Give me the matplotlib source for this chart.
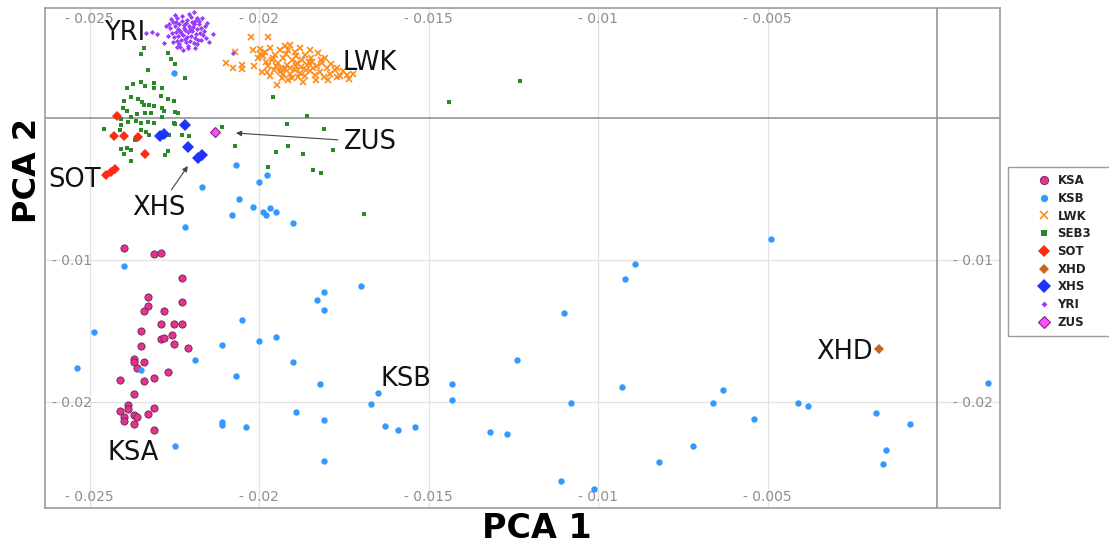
import matplotlib
matplotlib.use("Agg")
import matplotlib.pyplot as plt
import numpy as np

# PCA coordinates per population (PC1, PC2)
ksa = [
    (-0.02397, -0.00913), (-0.02309, -0.00960), (-0.02289, -0.00951), (-0.02228, -0.01129),
    (-0.02328, -0.01259), (-0.02228, -0.01294), (-0.02328, -0.01322), (-0.02338, -0.01361),
    (-0.02279, -0.01361), (-0.02289, -0.01451), (-0.02250, -0.01451), (-0.02228, -0.01451),
    (-0.02348, -0.01500), (-0.02289, -0.01559), (-0.02279, -0.01547), (-0.02258, -0.01528),
    (-0.02250, -0.01589), (-0.02348, -0.01608), (-0.02209, -0.01620), (-0.02370, -0.01699),
    (-0.02370, -0.01718), (-0.02338, -0.01716), (-0.02360, -0.01759), (-0.02268, -0.01787),
    (-0.02409, -0.01845), (-0.02338, -0.01854), (-0.02309, -0.01829), (-0.02370, -0.01946),
    (-0.02387, -0.02021), (-0.02387, -0.02049), (-0.02309, -0.02044), (-0.02409, -0.02061),
    (-0.02399, -0.02104), (-0.02397, -0.02132), (-0.02370, -0.02094), (-0.02360, -0.02104),
    (-0.02328, -0.02085), (-0.02370, -0.02157), (-0.02309, -0.02197),
]

ksb = [
    (-0.02251, 0.00317), (-0.02069, -0.00331), (-0.01977, -0.00398), (-0.02000, -0.00454),
    (-0.02167, -0.00488), (-0.02059, -0.00570), (-0.02079, -0.00683), (-0.02019, -0.00625),
    (-0.01989, -0.00664), (-0.01979, -0.00683), (-0.01968, -0.00632), (-0.01949, -0.00664),
    (-0.01900, -0.00742), (-0.02218, -0.00770), (-0.02397, -0.01039), (-0.01699, -0.01185),
    (-0.01808, -0.01227), (-0.01830, -0.01280), (-0.01808, -0.01352), (-0.02049, -0.01423),
    (-0.02487, -0.01509), (-0.01999, -0.01570), (-0.01949, -0.01540), (-0.02108, -0.01601),
    (-0.02538, -0.01758), (-0.02189, -0.01706), (-0.02348, -0.01777), (-0.01900, -0.01718),
    (-0.02069, -0.01817), (-0.01819, -0.01875), (-0.01650, -0.01937), (-0.01670, -0.02014),
    (-0.01890, -0.02073), (-0.02108, -0.02139), (-0.02108, -0.02164), (-0.02038, -0.02178),
    (-0.01808, -0.02129), (-0.01628, -0.02167), (-0.01589, -0.02197), (-0.01540, -0.02178),
    (-0.02249, -0.02308), (-0.01808, -0.02413), (-0.00491, -0.00852), (-0.00890, -0.01030),
    (-0.00919, -0.01132), (-0.01100, -0.01373), (-0.01240, -0.01706), (-0.01430, -0.01875),
    (-0.01430, -0.01986), (-0.01319, -0.02209), (-0.01269, -0.02227), (-0.01081, -0.02005),
    (-0.00930, -0.01896), (-0.01110, -0.02554), (-0.01011, -0.02611), (-0.00820, -0.02425),
    (-0.00720, -0.02308), (-0.00661, -0.02005), (-0.00630, -0.01915), (-0.00541, -0.02120),
    (-0.00410, -0.02005), (-0.00381, -0.02026), (-0.00181, -0.02075), (-0.00081, -0.02157),
    (-0.00150, -0.02336), (-0.00160, -0.02435), (0.00149, -0.01866),
]

lwk = [
    (-0.02097, 0.00387), (-0.02077, 0.00352), (-0.02071, 0.00465), (-0.02050, 0.00373),
    (-0.02050, 0.00345), (-0.02024, 0.00570), (-0.01973, 0.00570), (-0.02018, 0.00479),
    (-0.01997, 0.00486), (-0.02003, 0.00423), (-0.01991, 0.00324), (-0.02015, 0.00366),
    (-0.01982, 0.00465), (-0.01968, 0.00493), (-0.01953, 0.00444), (-0.01938, 0.00479),
    (-0.01923, 0.00507), (-0.01909, 0.00514), (-0.01914, 0.00479), (-0.01894, 0.00465),
    (-0.01879, 0.00493), (-0.01864, 0.00444), (-0.01850, 0.00479), (-0.01826, 0.00458),
    (-0.01805, 0.00423), (-0.01962, 0.00408), (-0.01944, 0.00387), (-0.01929, 0.00423),
    (-0.01917, 0.00373), (-0.01903, 0.00408), (-0.01888, 0.00387), (-0.01873, 0.00408),
    (-0.01858, 0.00373), (-0.01844, 0.00394), (-0.01829, 0.00366), (-0.01814, 0.00387),
    (-0.01799, 0.00352), (-0.01973, 0.00366), (-0.01956, 0.00338), (-0.01938, 0.00324),
    (-0.01923, 0.00345), (-0.01909, 0.00310), (-0.01894, 0.00338), (-0.01879, 0.00317),
    (-0.01864, 0.00296), (-0.01850, 0.00331), (-0.01835, 0.00303), (-0.01820, 0.00324),
    (-0.01791, 0.00310), (-0.01776, 0.00338), (-0.01770, 0.00352), (-0.01761, 0.00296),
    (-0.01740, 0.00303), (-0.01723, 0.00310), (-0.01770, 0.00289), (-0.01796, 0.00268),
    (-0.01870, 0.00254), (-0.01947, 0.00232), (-0.01903, 0.00282), (-0.01932, 0.00282),
    (-0.01968, 0.00296), (-0.01979, 0.00394), (-0.01950, 0.00366), (-0.01891, 0.00437),
    (-0.01876, 0.00359), (-0.01847, 0.00423), (-0.01817, 0.00408), (-0.01920, 0.00451),
    (-0.01935, 0.00352), (-0.01861, 0.00338), (-0.01832, 0.00268), (-0.01808, 0.00289),
    (-0.01885, 0.00289), (-0.01909, 0.00352), (-0.01929, 0.00310), (-0.01959, 0.00423),
    (-0.01988, 0.00437), (-0.01853, 0.00394), (-0.01891, 0.00366), (-0.01841, 0.00352),
    (-0.01788, 0.00380), (-0.01752, 0.00331), (-0.01735, 0.00275), (-0.01997, 0.00451),
    (-0.01976, 0.00324), (-0.01914, 0.00268),
]

seb3 = [
    (-0.02339, 0.00493), (-0.02348, 0.00451), (-0.02328, 0.00338), (-0.02269, 0.00458),
    (-0.02260, 0.00415), (-0.02248, 0.00380), (-0.02218, 0.00282), (-0.02390, 0.00211),
    (-0.02372, 0.00239), (-0.02348, 0.00254), (-0.02336, 0.00225), (-0.02310, 0.00246),
    (-0.02310, 0.00211), (-0.02286, 0.00211), (-0.02378, 0.00148), (-0.02398, 0.00120),
    (-0.02357, 0.00134), (-0.02345, 0.00113), (-0.02339, 0.00092), (-0.02289, 0.00155),
    (-0.02269, 0.00134), (-0.02251, 0.00120), (-0.02325, 0.00092), (-0.02310, 0.00085),
    (-0.02286, 0.00070), (-0.02280, 0.00049), (-0.02248, 0.00042), (-0.02239, 0.00035),
    (-0.02390, 0.00049), (-0.02401, 0.00070), (-0.02360, 0.00028), (-0.02378, 0.00007),
    (-0.02336, 0.00035), (-0.02319, 0.00035), (-0.02407, -0.00007), (-0.02387, -0.00028),
    (-0.02363, -0.00021), (-0.02348, -0.00035), (-0.02328, -0.00028), (-0.02310, -0.00035),
    (-0.02286, 0.00007), (-0.02251, -0.00035), (-0.02407, -0.00049), (-0.02457, -0.00077),
    (-0.02410, -0.00085), (-0.02348, -0.00085), (-0.02333, -0.00099), (-0.02325, -0.00120),
    (-0.02266, -0.00120), (-0.02227, -0.00120), (-0.02207, -0.00127), (-0.02366, -0.00155),
    (-0.02390, -0.00211), (-0.02407, -0.00218), (-0.02378, -0.00225), (-0.02398, -0.00254),
    (-0.02378, -0.00303), (-0.02277, -0.00261), (-0.02269, -0.00232), (-0.02248, -0.00042),
    (-0.02109, -0.00063), (-0.02071, -0.00197), (-0.01959, 0.00148), (-0.01859, 0.00014),
    (-0.01230, 0.00261), (-0.01440, 0.00113), (-0.01974, -0.00345), (-0.01950, -0.00239),
    (-0.01915, -0.00197), (-0.01870, -0.00254), (-0.01841, -0.00366), (-0.01817, -0.00387),
    (-0.01782, -0.00225), (-0.01808, -0.00077), (-0.01918, -0.00042), (-0.01690, -0.00676),
]

sot = [
    (-0.02419, 0.00011), (-0.02428, -0.00130), (-0.02398, -0.00130), (-0.02358, -0.00137),
    (-0.02336, -0.00254), (-0.02451, -0.00401), (-0.02438, -0.00380), (-0.02425, -0.00359),
]

xhd = [(-0.00171, -0.01629)]

xhs = [
    (-0.02218, -0.00049), (-0.02292, -0.00127), (-0.02280, -0.00113),
    (-0.02209, -0.00204), (-0.02180, -0.00282), (-0.02168, -0.00261),
]

yri = [
    (-0.02253, 0.00676), (-0.02242, 0.00704), (-0.02227, 0.00719), (-0.02212, 0.00690),
    (-0.02200, 0.00712), (-0.02188, 0.00683), (-0.02177, 0.00662), (-0.02262, 0.00634),
    (-0.02248, 0.00648), (-0.02236, 0.00662), (-0.02221, 0.00655), (-0.02206, 0.00648),
    (-0.02194, 0.00641), (-0.02183, 0.00627), (-0.02171, 0.00634), (-0.02256, 0.00599),
    (-0.02245, 0.00606), (-0.02233, 0.00613), (-0.02218, 0.00620), (-0.02209, 0.00606),
    (-0.02197, 0.00613), (-0.02186, 0.00592), (-0.02174, 0.00599), (-0.02250, 0.00571),
    (-0.02239, 0.00578), (-0.02224, 0.00585), (-0.02212, 0.00571), (-0.02200, 0.00578),
    (-0.02188, 0.00564), (-0.02242, 0.00543), (-0.02230, 0.00550), (-0.02215, 0.00536),
    (-0.02203, 0.00543), (-0.02191, 0.00528), (-0.02259, 0.00697), (-0.02165, 0.00585),
    (-0.02159, 0.00648), (-0.02268, 0.00578), (-0.02227, 0.00683), (-0.02197, 0.00676),
    (-0.02180, 0.00550), (-0.02236, 0.00521), (-0.02209, 0.00507), (-0.02221, 0.00634),
    (-0.02203, 0.00627), (-0.02230, 0.00599), (-0.02191, 0.00662), (-0.02245, 0.00676),
    (-0.02215, 0.00669), (-0.02183, 0.00704), (-0.02253, 0.00536), (-0.02171, 0.00550),
    (-0.02218, 0.00557), (-0.02239, 0.00627), (-0.02177, 0.00683), (-0.02162, 0.00613),
    (-0.02265, 0.00662), (-0.02206, 0.00733), (-0.02233, 0.00500), (-0.02188, 0.00493),
    (-0.02248, 0.00726), (-0.02191, 0.00747), (-0.02168, 0.00704), (-0.02135, 0.00592),
    (-0.02147, 0.00536), (-0.02224, 0.00479), (-0.02242, 0.00500), (-0.02209, 0.00493),
    (-0.02183, 0.00521), (-0.02315, 0.00606), (-0.02300, 0.00592), (-0.02333, 0.00599),
    (-0.02280, 0.00528), (-0.02077, 0.00458), (-0.02153, 0.00669), (-0.02156, 0.00564),
    (-0.02274, 0.00648),
]

zus = [(-0.02131, -0.00099)]

populations = ["KSA", "KSB", "LWK", "SEB3", "SOT", "XHD", "XHS", "YRI", "ZUS"]
points = [ksa, ksb, lwk, seb3, sot, xhd, xhs, yri, zus]

styles = {
    "KSA": dict(marker="o", ms=5.2, mfc="#e2348e", mec="#6a2450", mew=0.6),
    "KSB": dict(marker="o", ms=4.6, mfc="#3399ff", mec="#3399ff", mew=0),
    "LWK": dict(marker="x", ms=5.0, mec="#ff8a1c", mew=1.2),
    "SEB3": dict(marker="s", ms=3.4, mfc="#2a8a2a", mec="#2a8a2a", mew=0),
    "SOT": dict(marker="D", ms=5.4, mfc="#ff2a12", mec="#ff2a12", mew=0),
    "XHD": dict(marker="D", ms=4.6, mfc="#c8641f", mec="#c8641f", mew=0),
    "XHS": dict(marker="D", ms=6.2, mfc="#1f33ff", mec="#1f33ff", mew=0),
    "YRI": dict(marker="D", ms=2.6, mfc="#9a3cff", mec="#9a3cff", mew=0),
    "ZUS": dict(marker="D", ms=5.0, mfc="#ff4dff", mec="#7a2a7a", mew=0.8),
}

# annotation labels: (text, text position, arrow target or None)
labels = [
    ("YRI", (-0.02396, 0.00598), None),
    ("LWK", (-0.01673, 0.00387), None),
    ("ZUS", (-0.01673, -0.00169), (-0.02068, -0.00106)),
    ("SOT", (-0.02543, -0.00437), None),
    ("XHS", (-0.02295, -0.00634), (-0.02210, -0.00338)),
    ("KSB", (-0.01566, -0.01838), None),
    ("KSA", (-0.02372, -0.02359), None),
    ("XHD", (-0.00274, -0.01648), None),
]

x_ticks = [-0.025, -0.02, -0.015, -0.01, -0.005]
x_ticklabels = ["- 0.025", "- 0.02", "- 0.015", "- 0.01", "- 0.005"]
y_ticks = [-0.01, -0.02]
y_ticklabels = ["- 0.01", "- 0.02"]

fig = plt.figure(figsize=(11.09, 5.51), dpi=100)
ax = fig.add_axes([45 / 1109, 43 / 551, 955 / 1109, 500 / 551])

handles = []
for i, (name, pts) in enumerate(zip(populations, points)):
    arr = np.array(pts)
    (h,) = ax.plot(arr[:, 0], arr[:, 1], linestyle="none", zorder=3 + i,
                   label=name, **styles[name])
    handles.append(h)

ax.set_xlim(-0.026313, 0.001858)
ax.set_ylim(-0.027465, 0.007746)

ax.axhline(0, color="#8c8c8c", lw=1.1, zorder=2)
ax.axvline(0, color="#8c8c8c", lw=1.1, zorder=2)

ax.set_xticks(x_ticks)
ax.set_xticklabels(x_ticklabels)
ax.set_yticks(y_ticks)
ax.set_yticklabels(y_ticklabels)
ax.grid(True, color="#e2e2e2", lw=0.9, zorder=1)
ax.set_axisbelow(True)
ax.tick_params(axis="x", length=0, pad=-13, labeltop=True, labelbottom=True,
               labelsize=10, labelcolor="#8e8e8e")
ax.tick_params(axis="y", length=0, pad=-34, labelleft=True, labelright=True,
               labelsize=10, labelcolor="#8e8e8e")
for sp in ax.spines.values():
    sp.set_color("#9c9c9c")
    sp.set_linewidth(1.2)

ax.set_xlabel("PCA 1", fontsize=24, fontweight="bold", va="center")
ax.xaxis.set_label_coords(0.515, -0.04)
ax.set_ylabel("PCA 2", fontsize=23, fontweight="bold", va="center", ha="center")
ax.yaxis.set_label_coords(-0.018, 0.676)

for text, pos, target in labels:
    if target is None:
        ax.text(pos[0], pos[1], text, fontsize=18.5, ha="center", va="center",
                color="#111111", zorder=20)
    else:
        ax.annotate(text, xy=target, xytext=pos, fontsize=18.5, ha="center",
                    va="center", color="#111111", zorder=20,
                    arrowprops=dict(arrowstyle="-|>", color="#444444", lw=0.8,
                                    mutation_scale=8, shrinkA=2, shrinkB=0))

leg = fig.legend(handles=handles, loc="upper left",
                 bbox_to_anchor=(1008 / 1109, 1 - 167 / 551 - 0.4, 115 / 1109, 0.4),
                 mode="expand", borderaxespad=0, fontsize=8.5, frameon=True,
                 fancybox=False, framealpha=1, borderpad=0.6, labelspacing=0.4,
                 handlelength=4.9, handletextpad=-1.3, numpoints=1, markerscale=1.15)
leg.get_frame().set_edgecolor("#9c9c9c")
leg.get_frame().set_linewidth(1.0)
for t in leg.get_texts():
    t.set_fontweight("bold")
    t.set_color("#222222")

fig.savefig("out.png", dpi=100)
